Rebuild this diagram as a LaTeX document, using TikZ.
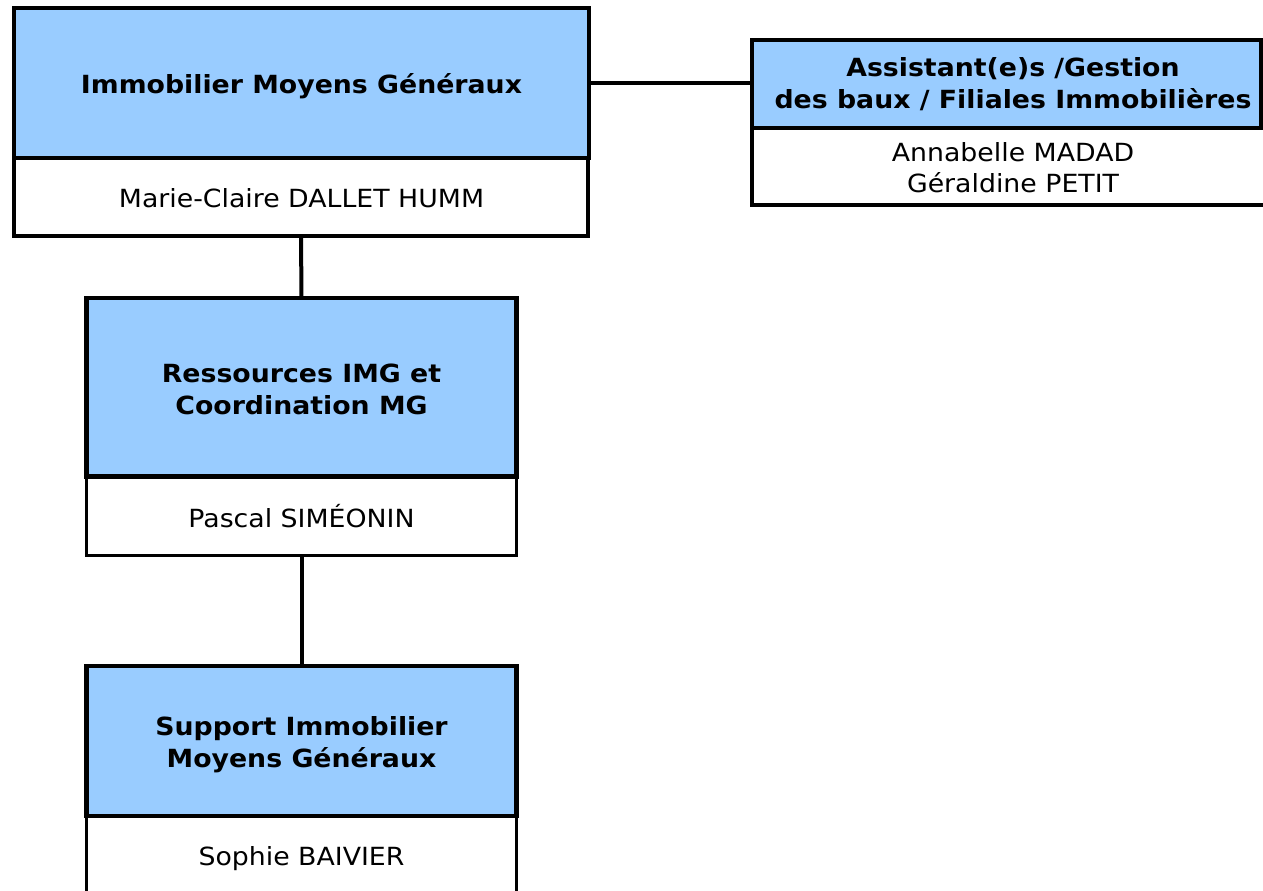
\documentclass[tikz,border=0pt]{standalone}
\usepackage{fontspec}
\setmainfont{DejaVu Sans}[FakeStretch=1.07]
\definecolor{boxblue}{RGB}{153,204,255}
\begin{document}
\begin{tikzpicture}[x=1pt,y=-1pt,
  topbox/.style={draw=black, line width=4.5pt, fill=boxblue, anchor=north west, inner sep=0pt, outer sep=0pt},
  namebox/.style={draw=black, line width=4pt, fill=white, anchor=north west, inner sep=0pt, outer sep=0pt},
  ttl/.style={anchor=base, inner sep=0pt, font=\fontsize{25}{31}\selectfont\bfseries},
  nm/.style={anchor=base, inner sep=0pt, font=\fontsize{25}{31}\selectfont},
  link/.style={draw=black, line width=4pt}]
\useasboundingbox (0,0) rectangle (1263,891);
\clip (0,0) rectangle (1263,891);
% box 1
\node[namebox, minimum width=574pt, minimum height=78pt] (imgN) at (14,158) {};
\node[topbox, minimum width=575pt, minimum height=150pt] (imgT) at (14,8) {};
% box 2
\node[namebox, minimum width=530pt, minimum height=77pt] (asN) at (752,128) {};
\node[topbox, minimum width=509pt, minimum height=88pt] (asT) at (752,40) {};
% box 3
\node[namebox, line width=3pt, minimum width=430pt, minimum height=78.5pt] (resN) at (86.5,476.5) {};
\node[topbox, minimum width=430pt, minimum height=178.5pt] (resT) at (86.5,298) {};
% box 4
\node[namebox, line width=3.5pt, minimum width=430pt, minimum height=110pt] (supN) at (86.5,816) {};
\node[topbox, minimum width=430pt, minimum height=150pt] (supT) at (86.5,666) {};
% connectors
\draw[link] (imgT.east) -- (imgT.east -| asT.west);
\draw[link] (imgN.south) -- (resT.north);
\draw[link] (resN.south) -- (supT.north);
% texts
\node[ttl] (t1) at (301.5,93) {Immobilier Moyens Généraux};
\node[nm] (n1) at (301.5,207) {Marie-Claire DALLET HUMM};
\node[ttl] (t2a) at (1013,77) {Assistant(e)s /Gestion};
\node[ttl] (t2b) at (1013,108) {des baux / Filiales Immobilières};
\node[nm] (n2a) at (1013,161) {Annabelle MADAD};
\node[nm] (n2b) at (1013,192) {Géraldine PETIT};
\node[ttl] (t3a) at (301.5,382) {Ressources IMG et};
\node[ttl] (t3b) at (301.5,414) {Coordination MG};
\node[nm] (n3) at (301.5,527) {Pascal SIMÉONIN};
\node[ttl] (t4a) at (301.5,735) {Support Immobilier};
\node[ttl] (t4b) at (301.5,767) {Moyens Généraux};
\node[nm] (n4) at (301.5,865) {Sophie BAIVIER};
\end{tikzpicture}
\end{document}
